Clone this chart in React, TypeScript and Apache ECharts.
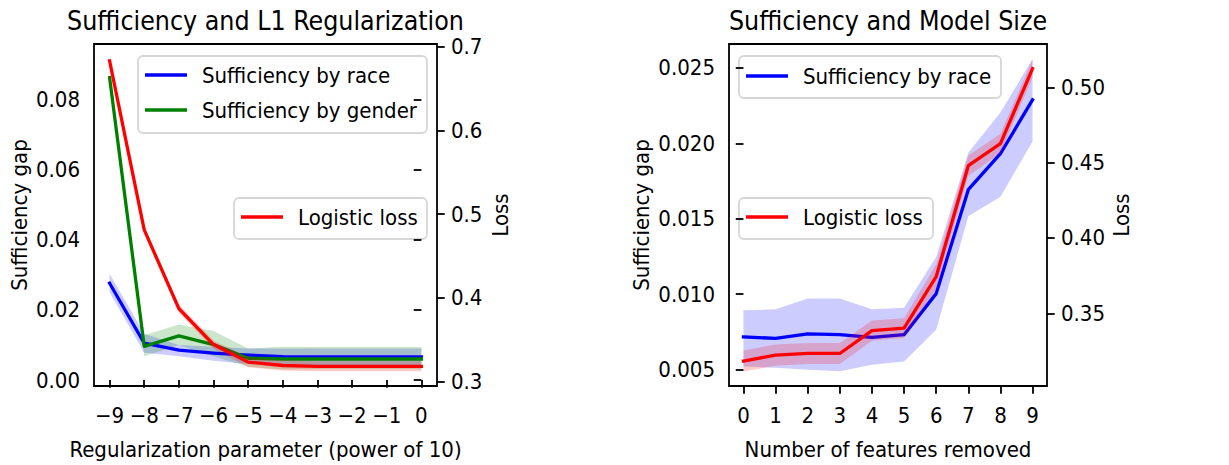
import React, { useEffect, useRef } from "react";
import * as echarts from "echarts";

const FONT = "DejaVu Sans Condensed";

// ---- Left panel: L1 regularization ----
const l1X = [-9, -8, -7, -6, -5, -4, -3, -2, -1, 0];
const l1XTicks = [-9, -8, -7, -6, -5, -4, -3, -2, -1, 0];
const l1GapTicks = [0, 0.02, 0.04, 0.06, 0.08];
const l1LossTicks = [0.3, 0.4, 0.5, 0.6, 0.7];
const raceL1 = [0.0276, 0.0105, 0.0085, 0.0077, 0.0071, 0.0067, 0.0066, 0.0066, 0.0066, 0.0066];
const raceL1Lo = [0.025, 0.0078, 0.0068, 0.0055, 0.0046, 0.0043, 0.0042, 0.0042, 0.0042, 0.0042];
const raceL1Hi = [0.0303, 0.0132, 0.01, 0.0095, 0.009, 0.009, 0.009, 0.009, 0.009, 0.009];
const genderL1 = [0.0862, 0.0096, 0.0126, 0.0101, 0.0062, 0.006, 0.006, 0.006, 0.006, 0.006];
const genderL1Lo = [0.0852, 0.0068, 0.01, 0.0068, 0.0038, 0.003, 0.0031, 0.0031, 0.0031, 0.0031];
const genderL1Hi = [0.0872, 0.0128, 0.0158, 0.014, 0.009, 0.0095, 0.0094, 0.0094, 0.0094, 0.0094];
const lossL1 = [0.683, 0.481, 0.387, 0.344, 0.323, 0.319, 0.318, 0.318, 0.318, 0.318];
const lossL1Lo = [0.68, 0.477, 0.382, 0.339, 0.317, 0.313, 0.312, 0.312, 0.312, 0.312];
const lossL1Hi = [0.686, 0.485, 0.392, 0.349, 0.329, 0.325, 0.324, 0.324, 0.324, 0.324];

// ---- Right panel: model size ----
const featX = [0, 1, 2, 3, 4, 5, 6, 7, 8, 9];
const featXTicks = [0, 1, 2, 3, 4, 5, 6, 7, 8, 9];
const featGapTicks = [0.005, 0.01, 0.015, 0.02, 0.025];
const featLossTicks = [0.35, 0.4, 0.45, 0.5];
const raceFeat = [0.00717, 0.00708, 0.00738, 0.00732, 0.00714, 0.00732, 0.01004, 0.01693, 0.01931, 0.02288];
const raceFeatLo = [0.00522, 0.00513, 0.005, 0.0049, 0.00532, 0.00554, 0.00764, 0.01516, 0.01646, 0.02013];
const raceFeatHi = [0.00894, 0.009, 0.00971, 0.00971, 0.009, 0.00911, 0.01246, 0.01938, 0.02204, 0.02558];
const lossFeat = [0.3183, 0.3222, 0.3233, 0.3233, 0.3385, 0.3402, 0.3743, 0.448, 0.4627, 0.5125];
const lossFeatLo = [0.3113, 0.3152, 0.3163, 0.3163, 0.3318, 0.3337, 0.3663, 0.4412, 0.4562, 0.5065];
const lossFeatHi = [0.3253, 0.3292, 0.3303, 0.3303, 0.3452, 0.3467, 0.3823, 0.4548, 0.4692, 0.5185];

const BLUE = "#0000ff";
const GREEN = "#008000";
const RED = "#ff0000";
const LW = 3.3;

function band(xs: number[], lo: number[], hi: number[], fill: string, xi: number, yi: number, z: number) {
  return {
    type: "custom",
    xAxisIndex: xi,
    yAxisIndex: yi,
    z,
    silent: true,
    clip: true,
    data: xs.map((x, i) => [x, lo[i], hi[i]]),
    encode: { x: 0, y: [1, 2] },
    renderItem: (params: any, api: any) => {
      if (params.dataIndex !== 0) return null;
      const pts: number[][] = [];
      for (let i = 0; i < xs.length; i++) pts.push(api.coord([xs[i], hi[i]]));
      for (let i = xs.length - 1; i >= 0; i--) pts.push(api.coord([xs[i], lo[i]]));
      return { type: "polygon", shape: { points: pts }, style: { fill } };
    },
  };
}

function line(name: string, xs: number[], ys: number[], color: string, xi: number, yi: number, z: number) {
  return {
    type: "line",
    name,
    xAxisIndex: xi,
    yAxisIndex: yi,
    z,
    silent: true,
    symbol: "none",
    showSymbol: false,
    data: xs.map((x, i) => [x, ys[i]]),
    lineStyle: { color, width: LW, join: "round", cap: "square" },
    itemStyle: { color },
  };
}

const txt = { color: "#000", fontFamily: FONT, fontSize: 22 };

function xAxis(grid: number, min: number, max: number, ticks: number[], name: string, fmt: (v: number) => string) {
  return {
    type: "value",
    gridIndex: grid,
    min,
    max,
    axisLine: { show: false },
    splitLine: { show: false },
    axisTick: { show: true, customValues: ticks, length: 7.7, lineStyle: { color: "#000", width: 1.8 } },
    axisLabel: { customValues: ticks, formatter: fmt, margin: 18, ...txt },
    name,
    nameLocation: "middle",
    nameGap: 52,
    nameTextStyle: { ...txt },
  };
}

function yAxis(grid: number, pos: string, min: number, max: number, ticks: number[], name: string, fmt: (v: number) => string, gap: number) {
  return {
    type: "value",
    gridIndex: grid,
    position: pos,
    min,
    max,
    axisLine: { show: false },
    splitLine: { show: false },
    axisTick: { show: true, customValues: ticks, length: 7.7, lineStyle: { color: "#000", width: 1.8 } },
    axisLabel: { customValues: ticks, formatter: fmt, margin: 14, ...txt },
    name,
    nameLocation: "middle",
    nameRotate: 90,
    nameGap: gap,
    nameTextStyle: { ...txt },
  };
}

function legendBox(x: number, y: number, w: number, h: number, items: { label: string; color: string; y: number }[]) {
  const children: any[] = [
    {
      type: "rect",
      shape: { x, y, width: w, height: h, r: 5 },
      style: { fill: "rgba(255,255,255,0.8)", stroke: "#d6d6d6", lineWidth: 1.8 },
    },
  ];
  items.forEach((it) => {
    children.push({
      type: "line",
      shape: { x1: x + 7, y1: it.y, x2: x + 49, y2: it.y },
      style: { stroke: it.color, lineWidth: LW },
    });
    children.push({
      type: "text",
      x: x + 64,
      y: it.y,
      style: { text: it.label, fill: "#000", font: `22px "${FONT}"`, verticalAlign: "middle", align: "left" },
    });
  });
  return { type: "group", z: 100, children };
}

export default function App() {
  const ref = useRef<HTMLDivElement>(null);
  useEffect(() => {
    document.body.style.margin = "0";
    if (!ref.current) return;
    const chart = echarts.init(ref.current, null, { renderer: "svg" });
    const gridBase = { show: true, borderColor: "#000", borderWidth: 1.8, backgroundColor: "transparent", containLabel: false };
    const titleStyle = { color: "#000", fontFamily: FONT, fontSize: 26.5, fontWeight: "normal" };
    chart.setOption({
      animation: false,
      backgroundColor: "#fff",
      title: [
        { text: "Sufficiency and L1 Regularization", left: 265.5, top: 7, textAlign: "center", padding: 0, textStyle: titleStyle },
        { text: "Sufficiency and Model Size", left: 888, top: 7, textAlign: "center", padding: 0, textStyle: titleStyle },
      ],
      grid: [
        { ...gridBase, left: 94, top: 44, width: 343, height: 349 },
        { ...gridBase, left: 729, top: 44, width: 318, height: 349 },
      ],
      xAxis: [
        xAxis(0, -9.45, 0.45, l1XTicks, "Regularization parameter (power of 10)", (v) => (v < 0 ? "\u2212" + Math.abs(v) : String(v))),
        xAxis(1, -0.45, 9.45, featXTicks, "Number of features removed", (v) => String(v)),
      ],
      yAxis: [
        yAxis(0, "left", -0.0017, 0.0958, l1GapTicks, "Sufficiency gap", (v) => v.toFixed(2), 64),
        yAxis(0, "right", 0.2945, 0.7032, l1LossTicks, "Loss", (v) => v.toFixed(1), 52),
        yAxis(1, "left", 0.00392, 0.02658, featGapTicks, "Sufficiency gap", (v) => v.toFixed(3), 77),
        yAxis(1, "right", 0.3017, 0.5288, featLossTicks, "Loss", (v) => v.toFixed(2), 63),
      ],
      series: [
        band(l1X, raceL1Lo, raceL1Hi, "rgba(0,0,255,0.2)", 0, 0, 1),
        band(l1X, genderL1Lo, genderL1Hi, "rgba(0,128,0,0.2)", 0, 0, 1),
        line("Sufficiency by race", l1X, raceL1, BLUE, 0, 0, 3),
        line("Sufficiency by gender", l1X, genderL1, GREEN, 0, 0, 3),
        band(l1X, lossL1Lo, lossL1Hi, "rgba(255,0,0,0.2)", 0, 1, 4),
        line("Logistic loss", l1X, lossL1, RED, 0, 1, 5),

        band(featX, raceFeatLo, raceFeatHi, "rgba(0,0,255,0.2)", 1, 2, 1),
        line("Sufficiency by race", featX, raceFeat, BLUE, 1, 2, 3),
        band(featX, lossFeatLo, lossFeatHi, "rgba(255,0,0,0.2)", 1, 3, 4),
        line("Logistic loss", featX, lossFeat, RED, 1, 3, 5),
      ],
      graphic: [
        legendBox(138, 56, 289, 77, [
          { label: "Sufficiency by race", color: BLUE, y: 75 },
          { label: "Sufficiency by gender", color: GREEN, y: 110 },
        ]),
        legendBox(234, 198, 193, 41, [{ label: "Logistic loss", color: RED, y: 217 }]),
        legendBox(739, 56, 262, 42, [{ label: "Sufficiency by race", color: BLUE, y: 76 }]),
        legendBox(739, 198, 194, 41, [{ label: "Logistic loss", color: RED, y: 217 }]),
      ],
    });
    return () => chart.dispose();
  }, []);
  return <div ref={ref} style={{ width: 1229, height: 465 }} />;
}
